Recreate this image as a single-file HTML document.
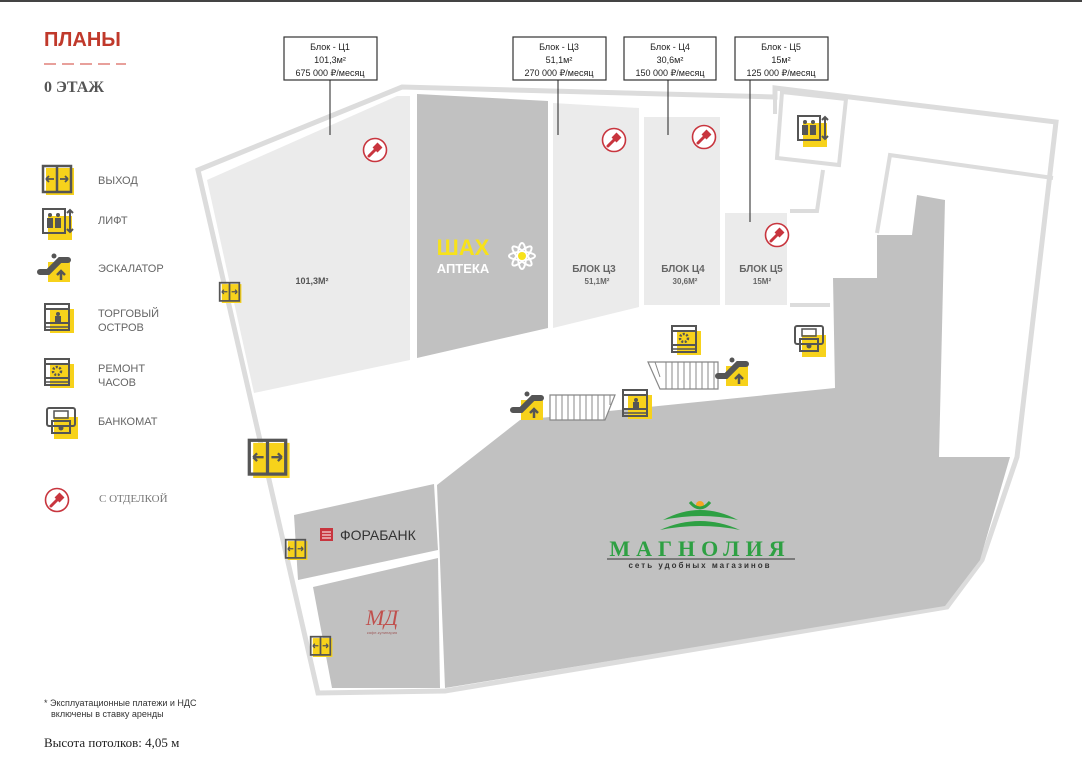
<!DOCTYPE html>
<html><head><meta charset="utf-8"><style>
html,body{margin:0;padding:0;background:#fff;}
svg{display:block;font-family:"Liberation Sans","DejaVu Sans",sans-serif;}
</style></head><body>
<svg width="1082" height="767" viewBox="0 0 1082 767" xmlns="http://www.w3.org/2000/svg">
<defs>
<g id="exit">
 <rect x="4" y="3" width="28" height="27" fill="#f7d21b"/>
 <rect x="1" y="1" width="28" height="26" fill="none" stroke="#555" stroke-width="2.5"/>
 <line x1="15" y1="1" x2="15" y2="27" stroke="#555" stroke-width="2.5"/>
 <path d="M4 14h8M4 14l3-3M4 14l3 3M26 14h-8M26 14l-3-3M26 14l-3 3" stroke="#555" stroke-width="1.8" fill="none"/>
</g>
<g id="lift">
 <rect x="6" y="8" width="24" height="24" fill="#f7d21b"/>
 <rect x="1" y="1" width="22" height="24" fill="none" stroke="#555" stroke-width="2"/>
 <circle cx="8" cy="7" r="2" fill="#555"/><rect x="5" y="10" width="6" height="10" fill="#555"/>
 <circle cx="16" cy="7" r="2" fill="#555"/><rect x="13" y="10" width="6" height="10" fill="#555"/>
 <path d="M28 2v22M25 5l3-3 3 3M25 21l3 3 3-3" stroke="#555" stroke-width="2" fill="none"/>
</g>
<g id="esc">
 <rect x="8" y="10" width="22" height="20" fill="#f7d21b"/>
 <path d="M0 20 h8 l12-12 h8" stroke="#555" stroke-width="6" fill="none" stroke-linecap="round"/>
 <circle cx="14" cy="4" r="2.5" fill="#555"/>
 <path d="M21 28v-8M17 23l4-4 4 4" stroke="#555" stroke-width="2.5" fill="none"/>
</g>
<g id="isl">
 <rect x="6" y="6" width="24" height="24" fill="#f7d21b"/>
 <rect x="1" y="1" width="24" height="26" fill="none" stroke="#555" stroke-width="2"/>
 <line x1="1" y1="6" x2="25" y2="6" stroke="#555" stroke-width="2"/>
 <line x1="1" y1="20" x2="25" y2="20" stroke="#555" stroke-width="2"/>
 <line x1="1" y1="24" x2="25" y2="24" stroke="#555" stroke-width="1.5"/>
 <circle cx="14" cy="11" r="2" fill="#555"/><rect x="11" y="13" width="6" height="6" fill="#555"/>
</g>
<g id="watch">
 <rect x="6" y="6" width="24" height="24" fill="#f7d21b"/>
 <rect x="1" y="1" width="24" height="26" fill="none" stroke="#555" stroke-width="2"/>
 <line x1="1" y1="6" x2="25" y2="6" stroke="#555" stroke-width="2"/>
 <line x1="1" y1="20" x2="25" y2="20" stroke="#555" stroke-width="2"/>
 <line x1="1" y1="24" x2="25" y2="24" stroke="#555" stroke-width="1.5"/>
 <circle cx="13" cy="13" r="4" fill="none" stroke="#555" stroke-width="2.5" stroke-dasharray="2 1.5"/>
</g>
<g id="atm">
 <rect x="8" y="10" width="24" height="22" fill="#f7d21b"/>
 <rect x="1" y="1" width="28" height="18" rx="2" fill="none" stroke="#555" stroke-width="2"/>
 <rect x="8" y="4" width="14" height="7" fill="none" stroke="#555" stroke-width="1.5"/>
 <rect x="6" y="14" width="18" height="12" fill="none" stroke="#555" stroke-width="2"/>
 <circle cx="15" cy="21" r="2.5" fill="#555"/>
</g>
<g id="brush">
 <circle cx="13" cy="13" r="11.5" fill="#fff" stroke="#c8353e" stroke-width="1.6"/>
 <path d="M7 19 l6-6" stroke="#c8353e" stroke-width="3" stroke-linecap="round"/>
 <rect x="12" y="7" width="7" height="7" transform="rotate(45 15.5 10.5)" fill="#c8353e"/>
</g>
</defs>

<rect x="0" y="0" width="1082" height="2" fill="#444"/>

<!-- Title / legend -->
<text x="44" y="46" font-size="20" font-weight="bold" fill="#c0392b">ПЛАНЫ</text>
<line x1="44" y1="64" x2="126" y2="64" stroke="#e0807a" stroke-width="1.5" stroke-dasharray="12 6"/>
<text x="44" y="92" font-size="16" fill="#555" font-family="Liberation Serif,serif" font-weight="bold">0 ЭТАЖ</text>

<use href="#exit" x="42" y="165"/>
<text x="98" y="184" font-size="11" fill="#666">ВЫХОД</text>
<use href="#lift" x="42" y="208"/>
<text x="98" y="224" font-size="11" fill="#666">ЛИФТ</text>
<use href="#esc" x="40" y="252"/>
<text x="98" y="272" font-size="11" fill="#666">ЭСКАЛАТОР</text>
<use href="#isl" x="44" y="303"/>
<text x="98" y="317" font-size="11" fill="#666">ТОРГОВЫЙ</text>
<text x="98" y="331" font-size="11" fill="#666">ОСТРОВ</text>
<use href="#watch" x="44" y="358"/>
<text x="98" y="372" font-size="11" fill="#666">РЕМОНТ</text>
<text x="98" y="386" font-size="11" fill="#666">ЧАСОВ</text>
<use href="#atm" x="46" y="407"/>
<text x="98" y="425" font-size="11" fill="#666">БАНКОМАТ</text>
<use href="#brush" x="44" y="487"/>
<text x="99" y="502" font-size="11" fill="#777" font-family="Liberation Serif,serif">С ОТДЕЛКОЙ</text>

<text x="44" y="706" font-size="9" fill="#333">* Эксплуатационные платежи и НДС</text>
<text x="51" y="717" font-size="9" fill="#333">включены в ставку аренды</text>
<text x="44" y="747" font-size="13" fill="#222" font-family="Liberation Serif,serif">Высота потолков:  4,05 м</text>

<!-- Outer walls -->
<polygon points="198,170 402,87 775,97 775,88 1056,122 1017,457 982,560 947,607 445,691 318,693" fill="#fff" stroke="#dcdcdc" stroke-width="5" stroke-linejoin="miter"/>
<polyline points="775,97 775,114" stroke="#dcdcdc" stroke-width="4" fill="none"/>
<!-- lift enclosure -->
<polygon points="782,92 846,99 839,165 777,158" fill="#fff" stroke="#dcdcdc" stroke-width="4"/>
<polyline points="823,170 817,211 790,211" stroke="#dcdcdc" stroke-width="4" fill="none"/>
<polyline points="790,305 830,305" stroke="#dcdcdc" stroke-width="4" fill="none"/>
<polyline points="877,233 890,155 1053,178" stroke="#dcdcdc" stroke-width="4" fill="none"/>

<!-- C1 -->
<polygon points="207,180 397,96 410,96 410,360 254,393" fill="#ebebeb"/>
<!-- Shah -->
<polygon points="417,94 548,101 548,328 417,358" fill="#c1c1c1"/>
<!-- C3 C4 C5 -->
<polygon points="553,103 639,108 639,307 553,328" fill="#ebebeb"/>
<rect x="644" y="117" width="76" height="188" fill="#ebebeb"/>
<rect x="725" y="213" width="62" height="92" fill="#ebebeb"/>

<!-- Magnolia -->
<polygon points="437,485 520,420 835,388 833,278 877,278 877,235 912,235 917,195 945,200 939,457 1010,457 980,560 945,606 445,688" fill="#c1c1c1"/>
<!-- Forabank / MD -->
<polygon points="294,515 434,484 438,550 298,580" fill="#c1c1c1"/>
<polygon points="313,587 438,558 440,688 332,688" fill="#c1c1c1"/>

<!-- hatched stairs -->
<g stroke="#888" stroke-width="1.2" fill="#fff">
<polygon points="550,395 615,395 605,420 550,420"/>
<polygon points="648,362 718,362 718,389 660,389"/>
</g>
<g stroke="#888" stroke-width="1">
<path d="M556 395v25M562 395v25M568 395v25M574 395v25M580 395v25M586 395v25M592 395v25M598 395v25M604 395v25M610 395v10"/>
<path d="M666 362v27M672 362v27M678 362v27M684 362v27M690 362v27M696 362v27M702 362v27M708 362v27M714 362v27M655 362l5 15"/>
</g>

<!-- labels -->
<text x="312" y="284" font-size="9" font-weight="bold" fill="#555" text-anchor="middle">101,3М²</text>
<text x="463" y="255" font-size="22" font-weight="bold" fill="#f7e21b" text-anchor="middle">ШАХ</text>
<text x="463" y="273" font-size="13" font-weight="bold" fill="#fff" text-anchor="middle">АПТЕКА</text>
<g transform="translate(522,256)" fill="none" stroke="#fff" stroke-width="2">
<ellipse rx="4" ry="13"/><ellipse rx="4" ry="13" transform="rotate(45)"/><ellipse rx="4" ry="13" transform="rotate(90)"/><ellipse rx="4" ry="13" transform="rotate(135)"/>
<circle r="4" fill="#f7e21b" stroke="none"/></g>
<text x="594" y="272" font-size="10" font-weight="bold" fill="#666" text-anchor="middle">БЛОК Ц3</text>
<text x="597" y="284" font-size="8" font-weight="bold" fill="#666" text-anchor="middle">51,1М²</text>
<text x="683" y="272" font-size="10" font-weight="bold" fill="#666" text-anchor="middle">БЛОК Ц4</text>
<text x="685" y="284" font-size="8" font-weight="bold" fill="#666" text-anchor="middle">30,6М²</text>
<text x="761" y="272" font-size="10" font-weight="bold" fill="#666" text-anchor="middle">БЛОК Ц5</text>
<text x="762" y="284" font-size="8" font-weight="bold" fill="#666" text-anchor="middle">15М²</text>

<!-- callouts -->
<g font-size="9" fill="#222" text-anchor="middle">
<rect x="284" y="37" width="93" height="43" fill="#fff" stroke="#333" stroke-width="1.2"/>
<text x="330" y="50">Блок - Ц1</text><text x="330" y="63">101,3м²</text><text x="330" y="76">675 000 ₽/месяц</text>
<line x1="330" y1="80" x2="330" y2="135" stroke="#222"/>
<rect x="513" y="37" width="93" height="43" fill="#fff" stroke="#333" stroke-width="1.2"/>
<text x="559" y="50">Блок - Ц3</text><text x="559" y="63">51,1м²</text><text x="559" y="76">270 000 ₽/месяц</text>
<line x1="558" y1="80" x2="558" y2="135" stroke="#222"/>
<rect x="624" y="37" width="92" height="43" fill="#fff" stroke="#333" stroke-width="1.2"/>
<text x="670" y="50">Блок - Ц4</text><text x="670" y="63">30,6м²</text><text x="670" y="76">150 000 ₽/месяц</text>
<line x1="668" y1="80" x2="668" y2="135" stroke="#222"/>
<rect x="735" y="37" width="93" height="43" fill="#fff" stroke="#333" stroke-width="1.2"/>
<text x="781" y="50">Блок - Ц5</text><text x="781" y="63">15м²</text><text x="781" y="76">125 000 ₽/месяц</text>
<line x1="750" y1="80" x2="750" y2="222" stroke="#222"/>
</g>

<!-- brush icons -->
<use href="#brush" x="362" y="137"/>
<use href="#brush" x="601" y="127"/>
<use href="#brush" x="691" y="124"/>
<use href="#brush" x="764" y="222"/>

<!-- icons on plan -->
<use href="#lift" x="797" y="115"/>
<use href="#exit" x="219" y="282" transform="translate(219 282) scale(0.7) translate(-219 -282)"/>
<use href="#exit" x="248" y="439" transform="translate(248 439) scale(1.3) translate(-248 -439)"/>
<use href="#exit" x="285" y="539" transform="translate(285 539) scale(0.7) translate(-285 -539)"/>
<use href="#exit" x="310" y="636" transform="translate(310 636) scale(0.7) translate(-310 -636)"/>
<use href="#watch" x="671" y="325"/>
<use href="#atm" x="794" y="325"/>
<use href="#esc" x="718" y="356"/>
<use href="#esc" x="513" y="390"/>
<use href="#isl" x="622" y="389"/>

<!-- Forabank -->
<rect x="320" y="528" width="13" height="13" fill="#c8353e"/>
<path d="M322 532h9M322 535h9M322 538h9" stroke="#fff" stroke-width="1"/>
<text x="340" y="540" font-size="14" fill="#333">ФОРАБАНК</text>
<!-- MD -->
<text x="382" y="625" font-size="22" font-style="italic" fill="#c0504d" text-anchor="middle" font-family="Liberation Serif,serif">МД</text>
<text x="382" y="634" font-size="4" fill="#a06060" text-anchor="middle">кафе-кулинария</text>

<!-- Magnolia -->
<circle cx="700" cy="505" r="4" fill="#f5a623"/>
<path d="M690 502 q10 12 20 0" stroke="#2ea043" stroke-width="3" fill="none"/>
<path d="M663 520 q37 -20 75 0 q-37 -8 -75 0z" fill="#2ea043"/>
<path d="M660 530 q40 -18 80 0 q-40 -8 -80 0z" fill="#2ea043"/>
<text x="700" y="556" font-size="22" font-weight="bold" fill="#2ea043" text-anchor="middle" font-family="Liberation Serif,serif" letter-spacing="6">МАГНОЛИЯ</text>
<line x1="607" y1="559" x2="795" y2="559" stroke="#333" stroke-width="1"/>
<text x="700" y="568" font-size="8" fill="#333" text-anchor="middle" letter-spacing="2" font-weight="bold">сеть удобных магазинов</text>
</svg>
</body></html>
